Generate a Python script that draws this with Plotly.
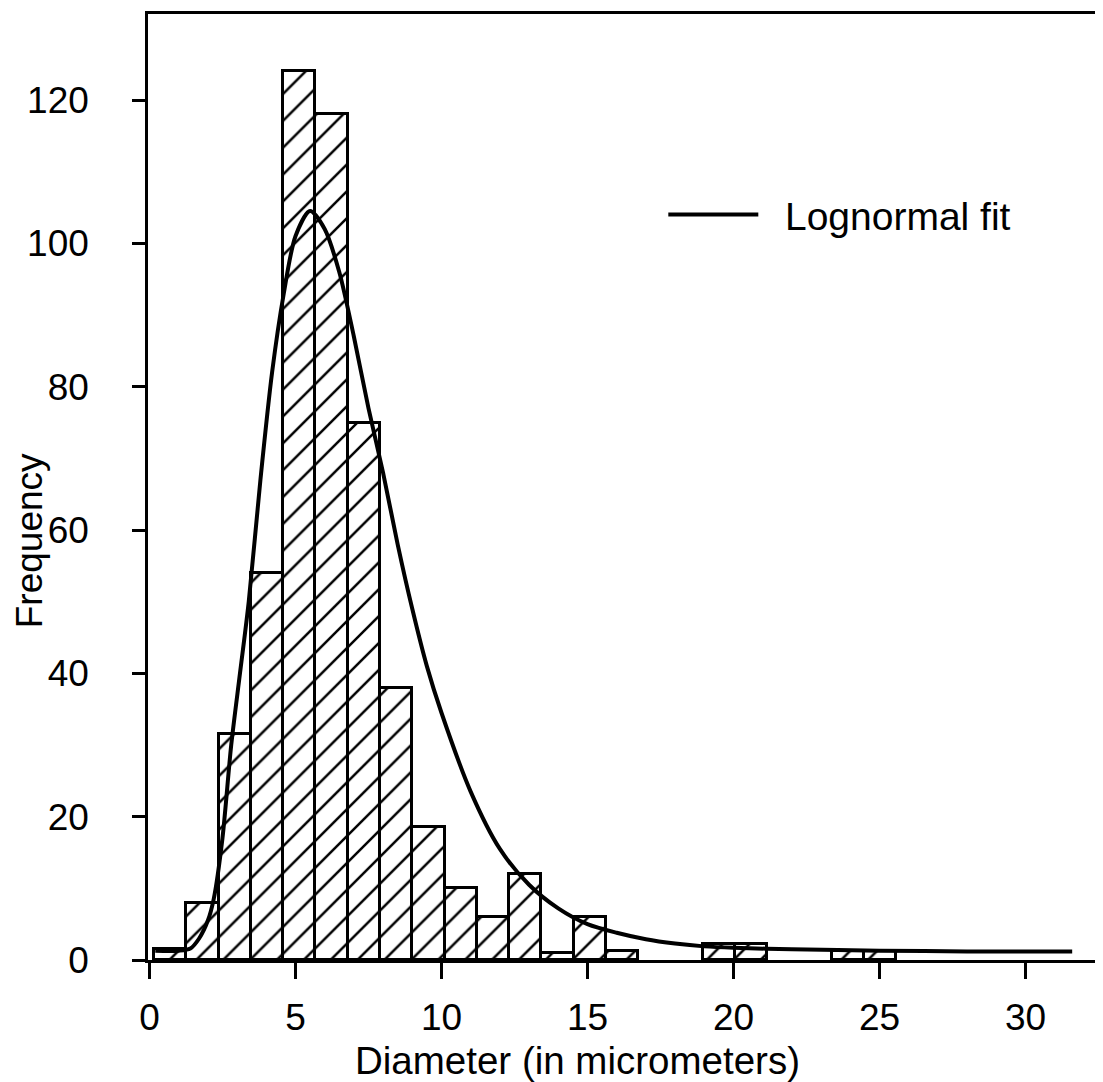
import plotly.graph_objects as go

# ---- data ----
bin_start = 0.16
bin_width = 1.105
bar_counts = [1.5, 8, 31.5, 54, 124, 118, 75, 38, 18.5, 10, 6, 12, 1, 6, 1.2,
              None, None, 2.2, 2.2, None, None, 1.3, 1.3]

fit_x = [0.2, 1.0, 1.4, 1.7, 2.0, 2.2, 2.5, 2.8, 3.1, 3.4, 3.8, 4.2, 4.6, 5.0,
         5.5, 6.0, 6.5, 7.0, 7.5, 8.0, 8.5, 9.0, 9.5, 10.0, 11.0, 12.0, 13.0,
         14.0, 15.0, 16.0, 17.0, 18.0, 19.0, 20.0, 22.0, 25.0, 28.0, 31.6]
fit_y = [1.3, 1.3, 1.6, 3.0, 5.5, 8.5, 17, 30, 40, 50, 67, 82, 93, 101,
         104.5, 102, 96, 87, 77, 68, 58, 49, 41, 34.5, 23.5, 15.5, 10.5,
         7.2, 5.0, 3.8, 2.9, 2.3, 1.9, 1.7, 1.5, 1.3, 1.2, 1.2]

x_ticks = [0, 5, 10, 15, 20, 25, 30]
y_ticks = [0, 20, 40, 60, 80, 100, 120]

bin_centers = [bin_start + bin_width * (i + 0.5) for i in range(len(bar_counts))]

FONT = "Liberation Sans, Arial, Helvetica, sans-serif"
NB = "\u00a0"

fig = go.Figure()
fig.add_trace(go.Bar(
    x=bin_centers, y=bar_counts, width=bin_width,
    marker=dict(color="white",
                line=dict(color="black", width=3),
                pattern=dict(shape="/", size=19, solidity=0.13,
                             fgcolor="black", bgcolor="white", fgopacity=1)),
    showlegend=False, hoverinfo="x+y",
))
fig.add_trace(go.Scatter(
    x=fit_x, y=fit_y, mode="lines", name=NB * 2 + "Lognormal fit",
    line=dict(color="black", width=4, shape="spline", smoothing=0.8),
))

fig.update_layout(
    width=1095, height=1074,
    margin=dict(l=140, r=3, t=4, b=122),
    paper_bgcolor="white", plot_bgcolor="white",
    font=dict(family=FONT, size=37, color="black"),
    bargap=0,
    showlegend=True,
    legend=dict(x=0.543, y=0.788, xanchor="left", yanchor="middle",
                bgcolor="rgba(0,0,0,0)", font=dict(size=39),
                itemwidth=90, tracegroupgap=0),
    xaxis=dict(range=[-0.05, 32.45], tickvals=x_ticks,
               ticktext=[str(v) for v in x_ticks],
               showline=True, linecolor="black", linewidth=2.5, mirror=True,
               ticks="outside", ticklen=16, tickwidth=2.5, tickcolor="black",
               showgrid=False, zeroline=False, ticklabelstandoff=7),
    yaxis=dict(range=[0, 132], tickvals=y_ticks,
               ticktext=[str(v) for v in y_ticks],
               showline=True, linecolor="black", linewidth=2.5, mirror=True,
               ticks="outside", ticklen=13, tickwidth=2.5, tickcolor="black",
               showgrid=False, zeroline=False, ticklabelstandoff=36),
    annotations=[
        dict(text="Diameter (in micrometers)", xref="paper", yref="paper",
             x=0.4527, y=-0.106, xanchor="center", yanchor="middle",
             showarrow=False, font=dict(size=38.5)),
        dict(text="Frequency", xref="paper", yref="paper",
             x=-0.124, y=0.443, xanchor="center", yanchor="middle",
             textangle=-90, showarrow=False, font=dict(size=37)),
    ],
)

fig.write_html("out.html")
